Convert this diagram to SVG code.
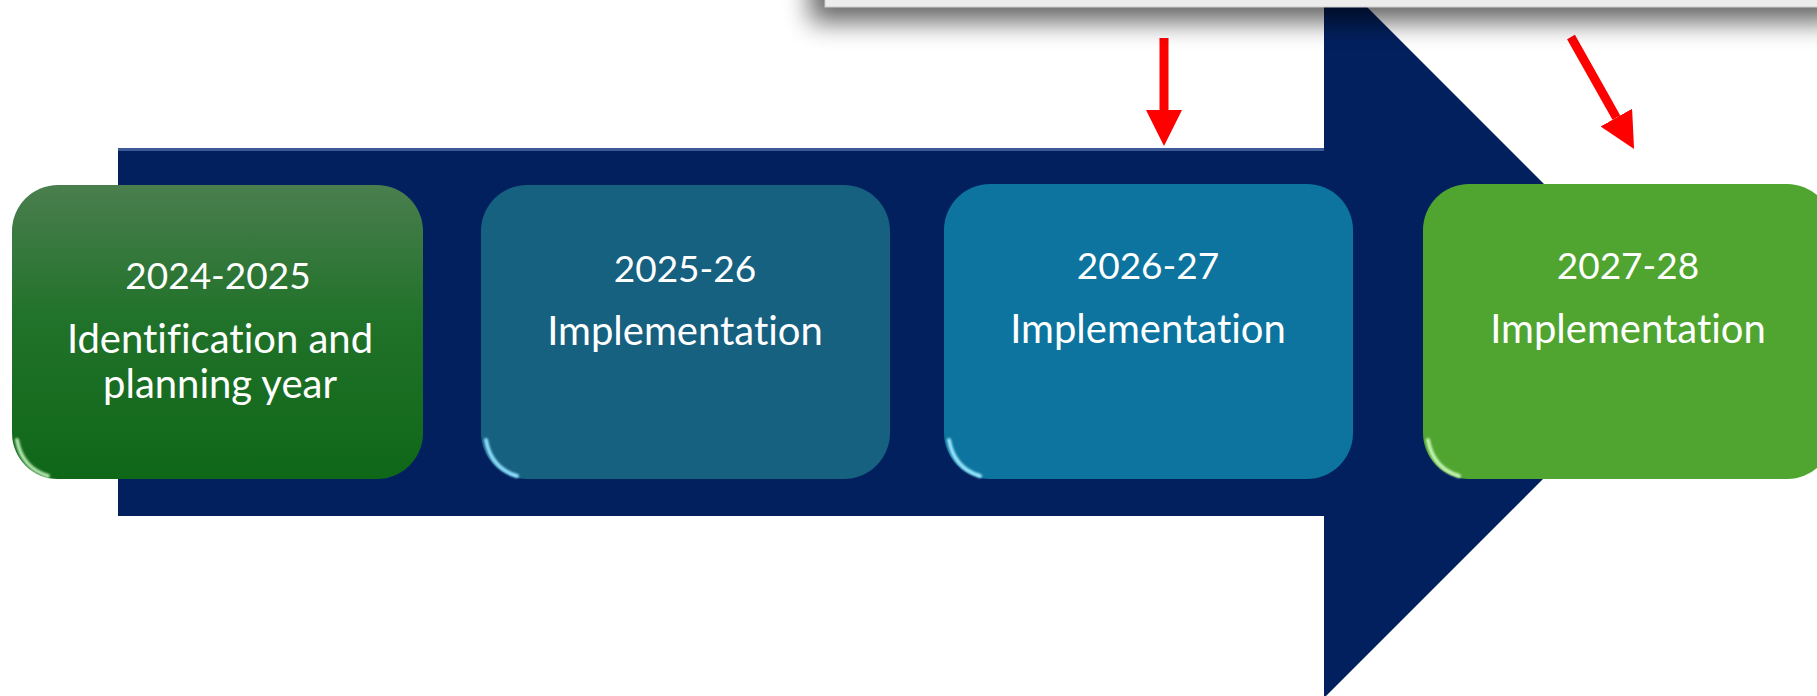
<svg xmlns="http://www.w3.org/2000/svg" width="1817" height="696" viewBox="0 0 1817 696">
<defs>
<style>
.lbl{font-family:Lato,"Open Sans","Liberation Sans",sans-serif;font-size:40px;fill:#ffffff;text-anchor:middle;font-variant-ligatures:none;font-feature-settings:"liga" 0}
.yr{font-size:37px}
.hl{fill:none;stroke-linecap:round;filter:url(#soft)}
.red{stroke:#ff0000;stroke-width:9;fill:none}
</style>
<linearGradient id="g1" x1="0" y1="0" x2="0" y2="1">
<stop offset="0" stop-color="#4a7e4e"/>
<stop offset="0.45" stop-color="#21722a"/>
<stop offset="1" stop-color="#0f6718"/>
</linearGradient>
<filter id="soft" x="-10%" y="-50%" width="120%" height="200%">
<feGaussianBlur stdDeviation="1"/>
</filter>
<filter id="shadow" x="-20%" y="-200%" width="140%" height="500%">
<feGaussianBlur stdDeviation="13"/>
</filter>
<marker id="ah" viewBox="0 0 10 10" refX="0" refY="5" markerWidth="4" markerHeight="4" orient="auto" markerUnits="strokeWidth">
<path d="M0,0 L10,5 L0,10 Z" fill="#ff0000"/>
</marker>
</defs>
<rect width="1817" height="696" fill="#ffffff"/>

<g id="timeline-arrow">
<path d="M118,148 L1324,148 L1324,-36 L1691,331 L1324,698 L1324,516 L118,516 Z" fill="#02205e"/>
<line x1="118" y1="149.5" x2="1324" y2="149.5" stroke="#3c5a98" stroke-width="3"/>
</g>

<g id="node-2024">
<rect x="12" y="185" width="411" height="294" rx="46" fill="url(#g1)"/>
<path class="hl" d="M50,191 L385,191" stroke="#a8dca8" stroke-width="5"/>
<path class="hl" d="M420,230 L420,440" stroke="#b8ecb8" stroke-width="3"/>
<path class="hl" d="M17,440 Q22,468 48,476" stroke="#b5e8b0" stroke-width="4"/>
<text class="lbl yr" x="218" y="289">2024-2025</text>
<text class="lbl" x="220" y="353">Identification and</text>
<text class="lbl" x="220" y="398">planning year</text>
</g>

<g id="node-2025">
<rect x="481" y="185" width="409" height="294" rx="46" fill="#166080"/>
<path class="hl" d="M519,191 L852,191" stroke="#6fc3e6" stroke-width="5"/>
<path class="hl" d="M887,230 L887,440" stroke="#90e0ff" stroke-width="3"/>
<path class="hl" d="M486,440 Q491,468 517,476" stroke="#8fe0ff" stroke-width="4"/>
<text class="lbl yr" x="685" y="282">2025-26</text>
<text class="lbl" x="685" y="345">Implementation</text>
</g>

<g id="node-2026">
<rect x="944" y="184" width="409" height="295" rx="46" fill="#0c749e"/>
<path class="hl" d="M982,190 L1315,190" stroke="#6fd0f4" stroke-width="5"/>
<path class="hl" d="M1350,230 L1350,440" stroke="#9aeaff" stroke-width="3"/>
<path class="hl" d="M949,440 Q954,468 980,476" stroke="#9be8ff" stroke-width="4"/>
<text class="lbl yr" x="1148" y="279">2026-27</text>
<text class="lbl" x="1148" y="343">Implementation</text>
</g>

<g id="node-2027">
<rect x="1423" y="184" width="410" height="295" rx="46" fill="#4fa52f"/>
<path class="hl" d="M1461,190 L1800,190" stroke="#9ee88a" stroke-width="5"/>
<path class="hl" d="M1428,440 Q1433,468 1459,476" stroke="#c8f5b5" stroke-width="4"/>
<text class="lbl yr" x="1628" y="279">2027-28</text>
<text class="lbl" x="1628" y="343">Implementation</text>
</g>

<g id="connectors">
<line class="red" x1="1164" y1="38" x2="1164" y2="110" marker-end="url(#ah)"/>
<line class="red" x1="1571" y1="37" x2="1616.4" y2="117.6" marker-end="url(#ah)"/>
</g>

<g id="top-panel">
<rect x="810" y="-30" width="1030" height="52" fill="#000" opacity="0.6" filter="url(#shadow)"/>
<rect x="825" y="-10" width="1000" height="17" fill="#ececec" stroke="#d0d0d0" stroke-width="1"/>
</g>
</svg>
